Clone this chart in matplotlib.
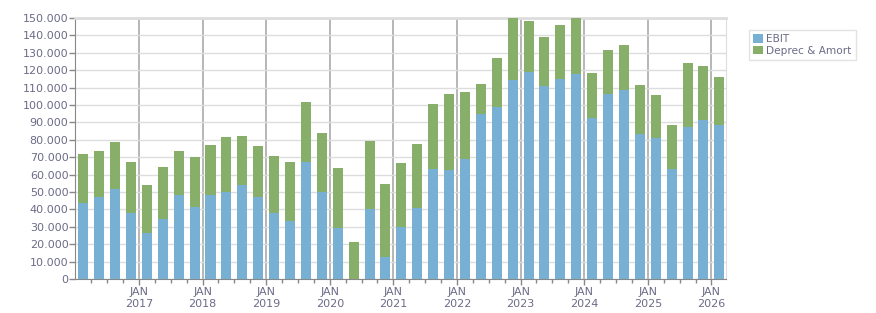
import numpy as np
import matplotlib.pyplot as plt
from matplotlib.ticker import FuncFormatter, FixedLocator

# quarterly values, Q1 2016 .. Q1 2026
ebit = [43500, 46900, 51900, 38100, 26200, 34300, 48000, 41100, 48400, 50100,
        54200, 47300, 38100, 33100, 67400, 50100, 29500, 0, 40400, 12800,
        30000, 40900, 63300, 62800, 69100, 94900, 98900, 114400, 119000, 111000,
        115000, 117900, 92600, 106400, 108700, 83400, 81100, 63300, 87400, 91500,
        88600]
total = [72000, 73700, 78800, 67400, 54200, 64500, 73700, 70200, 77100, 81700,
         82300, 76500, 70800, 67400, 101800, 84000, 63900, 21400, 79400, 54700,
         66800, 77700, 100600, 106400, 107500, 112100, 127000, 152000, 148300, 139100,
         146000, 151000, 118400, 131600, 134500, 111600, 105800, 88600, 124200, 122500,
         116100]
deprec = [t - e for t, e in zip(total, ebit)]
years = [2017, 2018, 2019, 2020, 2021, 2022, 2023, 2024, 2025, 2026]

text_col = '#6b6b88'
blue = '#77b0d3'
green = '#88af6a'

fig = plt.figure(figsize=(8.76, 3.13), dpi=100)
ax = fig.add_axes([0.086, 0.1086, 0.743, 0.834])

x = np.arange(len(ebit)) + 0.5
ax.bar(x, ebit, width=0.63, color=blue, label='EBIT', zorder=3)
ax.bar(x, deprec, width=0.63, bottom=ebit, color=green, label='Deprec & Amort', zorder=3)

ax.set_xlim(0, 40.93)
ax.set_ylim(0, 150000)
ax.set_yticks(np.arange(0, 150001, 10000))
ax.yaxis.set_major_formatter(FuncFormatter(lambda v, p: f'{int(v):,}'.replace(',', '.')))
ax.grid(axis='y', color='#dddddd', linewidth=1, zorder=0)

year_pos = [(y - 2016) * 4 for y in years]
ax.xaxis.set_major_locator(FixedLocator(year_pos))
ax.set_xticklabels([f'JAN\n{y}' for y in years])
ax.xaxis.set_minor_locator(FixedLocator([q for q in range(1, 41) if q % 4]))
for p in year_pos:
    ax.axvline(p, color='#aaaaaa', linewidth=1.2, zorder=1)

ax.tick_params(axis='both', colors='#888888', labelcolor=text_col, labelsize=8)
ax.tick_params(axis='y', length=4, width=1, pad=1)
ax.tick_params(axis='x', which='major', length=4, width=1, pad=2)
ax.tick_params(axis='x', which='minor', length=3, width=1, color='#888888')

ax.spines['left'].set_color('#888888')
ax.spines['bottom'].set_color('#888888')
ax.spines['top'].set_color('#dddddd')
ax.spines['top'].set_linewidth(2)
ax.spines['right'].set_color('#dddddd')

leg = ax.legend(loc='upper left', bbox_to_anchor=(1.035, 0.955), fontsize=7.6,
                frameon=True, fancybox=False, handlelength=0.9, handleheight=0.9,
                handletextpad=0.35, borderpad=0.4, labelspacing=0.15, borderaxespad=0)
leg.get_frame().set_edgecolor('#dddddd')
for t in leg.get_texts():
    t.set_color(text_col)

fig.savefig('out.png', dpi=100)
